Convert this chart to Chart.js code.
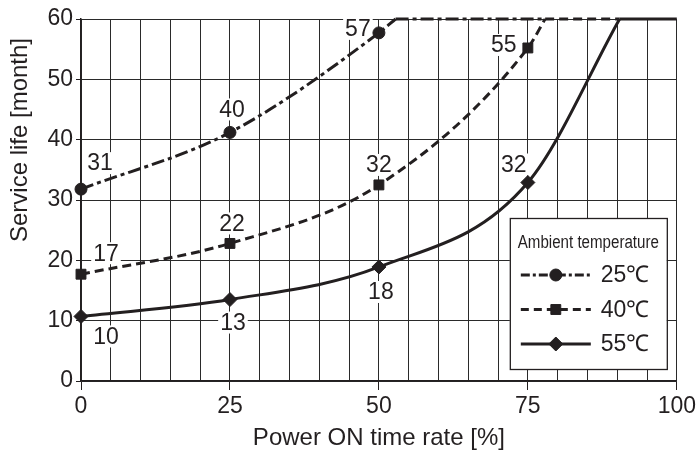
<!DOCTYPE html>
<html><head><meta charset="utf-8">
<script src="https://cdn.jsdelivr.net/npm/chart.js@4"></script>
<style>html,body{margin:0;padding:0;background:#fff}</style>
</head><body>
<canvas id="c" width="699" height="450"></canvas>
<script>
// ---- data ----
const rateAt = [0, 25, 50, 75];                 // Power ON time rate [%] of marked points
const life25C = [31.8, 41.2, 57.7];             // service life [month] at 25°C
const life40C = [17.7, 22.8, 32.5, 55.2];       // at 40°C
const life55C = [10.7, 13.5, 18.9, 32.9];       // at 55°C
const printed25C = ['31', '40', '57'];          // printed value labels
const printed40C = ['17', '22', '32', '55'];
const printed55C = ['10', '13', '18', '32'];
const reach60 = [52.8, 77.9, 90.4];             // rate where each curve reaches the cap
const lifeCap = 60;
const seriesNames = ['25\u2103', '40\u2103', '55\u2103'];
const legendTitle = 'Ambient temperature';
const xTitle = 'Power ON time rate [%]';
const yTitle = 'Service life [month]';
const xLabelled = [0, 25, 50, 75, 100];

// ---- styling ----
const INK = '#231f20';
const FONT = "'Liberation Sans', Arial, Helvetica, sans-serif";
const styles = [
  {dash: [13, 4, 4, 4], point: 'circle', r: 6, legendDash: [9, 3, 3, 3], labelOff: [[19, -26], [2, -23], [-21, -4]]},
  {dash: [9, 5], point: 'rect', r: 7, legendDash: [8, 5], labelOff: [[25, -21], [2, -20], [0, -20], [-24, -3]]},
  {dash: [], point: 'rectRot', r: 7, legendDash: [], labelOff: [[25, 20], [3, 23], [2, 25], [-14, -18]]}
];
const lives = [life25C, life40C, life55C];
const printed = [printed25C, printed40C, printed55C];

const datasets = [];
lives.forEach((life, s) => {
  const st = styles[s];
  const pts = life.map((y, i) => ({x: rateAt[i], y}));
  pts.push({x: reach60[s], y: lifeCap});
  datasets.push({
    data: pts, borderColor: INK, backgroundColor: INK, borderWidth: 3, borderDash: st.dash,
    pointStyle: st.point,
    pointRadius: ctx => ctx.dataIndex < life.length ? st.r : 0,
    pointHoverRadius: ctx => ctx.dataIndex < life.length ? st.r : 0,
    pointBorderWidth: 1, pointBorderColor: INK, pointBackgroundColor: INK,
    cubicInterpolationMode: 'monotone', clip: false
  });
  const flatEnd = s < reach60.length - 1 ? reach60[s + 1] : 100;
  datasets.push({
    data: [{x: reach60[s], y: lifeCap}, {x: flatEnd, y: lifeCap}],
    borderColor: INK, borderWidth: 3, borderDash: st.dash, pointRadius: 0, clip: false
  });
});

function marker(ctx, style, x, y, r) {
  ctx.save();
  ctx.fillStyle = INK; ctx.strokeStyle = INK; ctx.lineWidth = 1; ctx.setLineDash([]);
  ctx.beginPath();
  if (style === 'circle') ctx.arc(x, y, r, 0, Math.PI * 2);
  else if (style === 'rect') { const h = r * Math.SQRT1_2; ctx.rect(x - h, y - h, 2 * h, 2 * h); }
  else { ctx.moveTo(x, y - r); ctx.lineTo(x + r, y); ctx.lineTo(x, y + r); ctx.lineTo(x - r, y); ctx.closePath(); }
  ctx.fill(); ctx.stroke();
  ctx.restore();
}

function tagBoxes(chart) {
  const xs = chart.scales.x, ys = chart.scales.y, out = [];
  const ctx = chart.ctx;
  ctx.save();
  ctx.font = '23px ' + FONT;
  lives.forEach((life, s) => {
    life.forEach((v, i) => {
      const off = styles[s].labelOff[i];
      const cx = xs.getPixelForValue(rateAt[i]) + off[0];
      const cy = ys.getPixelForValue(v) + off[1];
      const w = ctx.measureText(printed[s][i]).width;
      out.push({text: printed[s][i], cx, cy, w});
    });
  });
  ctx.restore();
  return out;
}

const decor = {
  id: 'decor',
  beforeDatasetsDraw(chart) {
    const ctx = chart.ctx;
    ctx.save();
    ctx.fillStyle = '#fff';
    tagBoxes(chart).forEach(t => ctx.fillRect(t.cx - t.w / 2 - 2, t.cy - 11, t.w + 4, 22));
    ctx.restore();
  },
  afterDraw(chart) {
    // y-axis title (sits above the axis centre in the reference)
    const ctx = chart.ctx;
    ctx.save();
    ctx.translate(20, 140);
    ctx.rotate(-Math.PI / 2);
    ctx.fillStyle = INK; ctx.textAlign = 'center'; ctx.textBaseline = 'middle';
    ctx.font = '24px ' + FONT;
    ctx.fillText(yTitle, 0, 0);
    ctx.restore();
  },
  afterDatasetsDraw(chart) {
    const ctx = chart.ctx, a = chart.chartArea;
    ctx.save();
    ctx.fillStyle = INK; ctx.textAlign = 'center'; ctx.textBaseline = 'middle';
    ctx.font = '23px ' + FONT;
    tagBoxes(chart).forEach(t => ctx.fillText(t.text, t.cx, t.cy + 1));
    // legend box
    const L = a.right - 167, R = a.right - 10, T = a.top + 199, B = a.bottom - 12;
    ctx.fillStyle = '#fff';
    ctx.fillRect(L, T, R - L, B - T);
    ctx.strokeStyle = INK; ctx.lineWidth = 1.3;
    ctx.strokeRect(L + 0.5, T + 0.5, R - L, B - T);
    ctx.fillStyle = INK;
    ctx.save();
    ctx.translate((L + R) / 2, T + 25);
    ctx.scale(0.84, 1);
    ctx.font = '18px ' + FONT;
    ctx.fillText(legendTitle, 0, 0);
    ctx.restore();
    seriesNames.forEach((name, s) => {
      const y = T + 57 + s * 34.5;
      ctx.save();
      ctx.strokeStyle = INK; ctx.lineWidth = 3; ctx.setLineDash(styles[s].legendDash);
      ctx.beginPath(); ctx.moveTo(L + 11, y); ctx.lineTo(L + 81, y); ctx.stroke();
      ctx.restore();
      marker(ctx, styles[s].point, L + 46, y, styles[s].r);
      ctx.textAlign = 'left';
      ctx.font = '23px ' + FONT;
      ctx.fillText(name, L + 91, y + 1);
    });
    ctx.restore();
  }
};

new Chart(document.getElementById('c'), {
  type: 'line',
  data: {datasets},
  options: {
    responsive: false, animation: false, devicePixelRatio: 1,
    layout: {padding: {top: 19, right: 20, left: 0, bottom: 0}},
    plugins: {legend: {display: false}, tooltip: {enabled: false}},
    events: [],
    scales: {
      x: {
        type: 'linear', min: 0, max: 100,
        grid: {color: '#2a2a2a', lineWidth: 1, tickLength: 9,
               tickColor: c => xLabelled.includes(c.tick.value) ? INK : 'rgba(0,0,0,0)'},
        border: {color: INK, width: 1.5},
        ticks: {stepSize: 5, autoSkip: false, maxRotation: 0, padding: 3, color: INK,
                font: {family: FONT, size: 23},
                callback: v => xLabelled.includes(v) ? String(v) : ''},
        title: {display: true, text: xTitle, color: INK, font: {family: FONT, size: 24, lineHeight: 1}, padding: 0},
        afterFit: s => { s.height = 69; }
      },
      y: {
        min: 0, max: 60,
        grid: {color: '#2a2a2a', lineWidth: 1, tickLength: 5, tickColor: INK},
        border: {color: INK, width: 1.5},
        ticks: {stepSize: 10, padding: 3, color: INK, font: {family: FONT, size: 23}},
        title: {display: false},
        afterFit: s => { s.width = 81; }
      }
    }
  },
  plugins: [decor]
});
</script>
</body></html>
